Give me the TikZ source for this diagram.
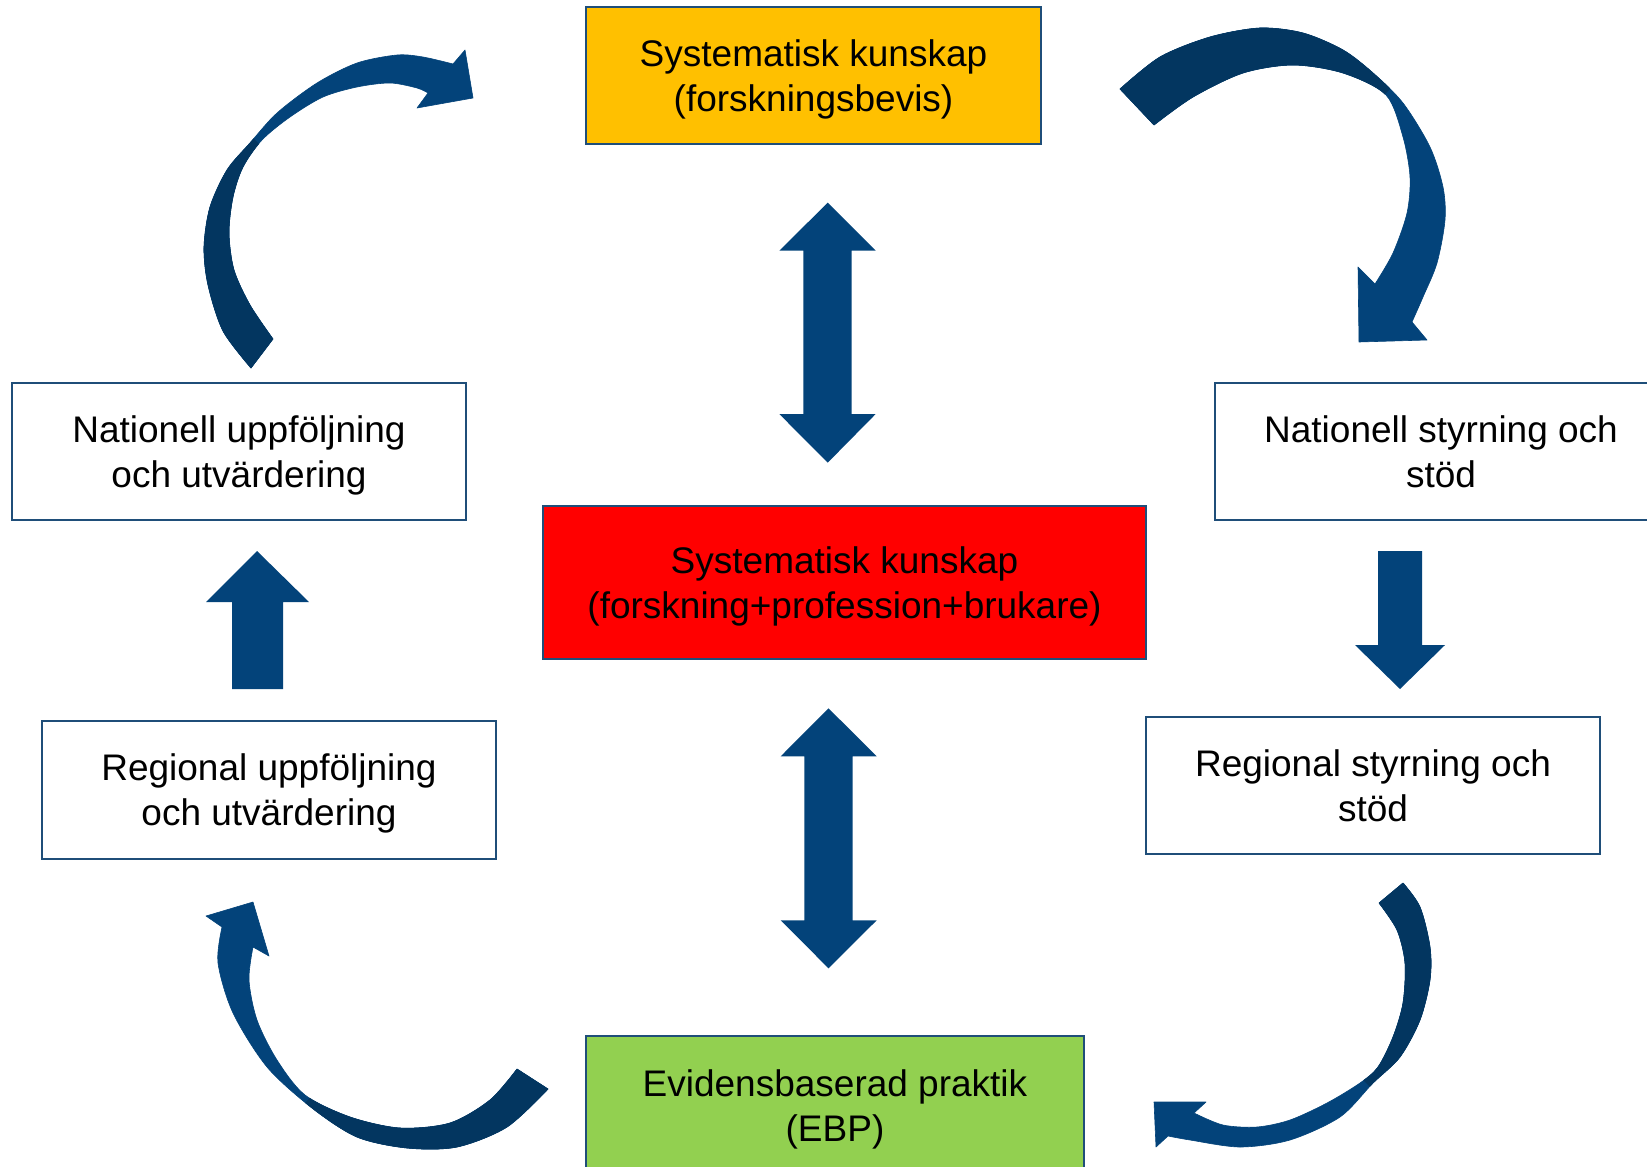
\documentclass[tikz,border=0pt]{standalone}
\usepackage{fontspec}
\setmainfont{Liberation Sans}
\definecolor{bordblue}{RGB}{31,78,121}
\definecolor{arrblue}{RGB}{3,67,122}
\definecolor{arrdark}{RGB}{3,54,96}
\definecolor{boxyellow}{RGB}{255,192,0}
\definecolor{boxred}{RGB}{255,0,0}
\definecolor{boxgreen}{RGB}{146,208,80}
\newcommand{\lnst}{\vrule height 34pt depth 7pt width 0pt}
\begin{document}
\begin{tikzpicture}[x=1pt,y=-1pt,
  box/.style={draw=bordblue, line width=2.5pt, align=center, inner sep=0pt,
    font=\fontsize{37}{45}\selectfont},
  blockarrow/.style={fill=arrblue},
  lightpart/.style={fill=arrblue, draw=arrblue, line width=0.6pt, line join=round},
  darkpart/.style={fill=arrdark, draw=arrdark, line width=0.6pt, line join=round}]
\useasboundingbox (0,0) rectangle (1647,1167);
\clip (0,0) rectangle (1647,1167);

% boxes
\node[box, fill=boxyellow, minimum width=455pt, minimum height=137pt] (sk) at (813.5,75.5)
  {\lnst Systematisk kunskap\\\lnst(forskningsbevis)};
\node[box, fill=boxred, minimum width=603pt, minimum height=153pt] (skall) at (844.5,582.5)
  {\lnst Systematisk kunskap\\\lnst(forskning+profession+brukare)};
\node[box, fill=boxgreen, minimum width=498pt, minimum height=139pt] (ebp) at (835,1105.5)
  {\lnst Evidensbaserad praktik\\\lnst(EBP)};
\node[box, fill=white, minimum width=454pt, minimum height=137pt] (nu) at (239,451.5)
  {\lnst Nationell uppföljning\\\lnst och utvärdering};
\node[box, fill=white, minimum width=454pt, minimum height=138pt] (ru) at (269,790)
  {\lnst Regional uppföljning\\\lnst och utvärdering};
\node[box, fill=white, minimum width=452pt, minimum height=137pt] (ns) at (1441,451.5)
  {\lnst Nationell styrning och\\\lnst stöd};
\node[box, fill=white, minimum width=454pt, minimum height=137pt] (rs) at (1373,785.5)
  {\lnst Regional styrning och\\\lnst stöd};

% straight block arrows
\fill[blockarrow] (232,689) -- (232,602) -- (206,602) -- (257,551) -- (309,602) -- (283,602) -- (283,689) -- cycle;
\fill[blockarrow] (1378,551) -- (1422,551) -- (1422,645) -- (1445,645) -- (1400,689) -- (1355,645) -- (1378,645) -- cycle;
\fill[blockarrow] (827.7,202.7) -- (875.7,250.7) -- (851.7,250.7) -- (851.7,414) -- (875.7,414) -- (827.7,462.7)
  -- (779.3,414) -- (803.3,414) -- (803.3,250.7) -- (779.3,250.7) -- cycle;
\fill[blockarrow] (828.5,708.3) -- (876.7,756.3) -- (852.7,756.3) -- (852.7,920.3) -- (876.7,920.3) -- (828.5,968.3)
  -- (780.7,920.3) -- (804.3,920.3) -- (804.3,756.3) -- (780.7,756.3) -- cycle;

% curved arrows: each is one smooth ribbon; the tail half is overlaid darker
\def\curveA{plot[smooth] coordinates {(251,368) (223,331) (208,285) (204,247) (210,207) (227,170) (250,143) (277,113) (317,83) (357,63) (397,55) (423,57) (453,64)}
  -- (465,50) -- (473,98) -- (417,108)
  -- plot[smooth] coordinates {(428,93) (417,88) (390,83) (357,87) (323,97) (290,117) (262,140) (243,167) (233,197) (229,233) (234,270) (250,305) (273,339)} -- cycle}
\def\curveB{plot[smooth] coordinates {(1120,89) (1160,57) (1210,37) (1260,28) (1303,33) (1343,50) (1373,73) (1403,103) (1430,147) (1443,187) (1445,220) (1437,263) (1423,297) (1412,322)}
  -- (1427,340) -- (1359,342) -- (1358,267)
  -- plot[smooth] coordinates {(1375,284) (1393,253) (1407,213) (1410,177) (1403,137) (1386,95) (1343,73) (1293,65) (1243,73) (1193,97) (1154,125)} -- cycle}
\def\curveC{plot[smooth] coordinates {(548,1089) (507,1127) (457,1147) (407,1148) (357,1137) (312,1108) (267,1067) (233,1013) (218,963) (222,927)}
  -- (206,916) -- (253,902) -- (269,956)
  -- plot[smooth] coordinates {(253,947) (249,980) (257,1020) (277,1060) (305,1095) (350,1117) (400,1128) (450,1123) (490,1100) (517,1069)} -- cycle}
\def\curveD{plot[smooth] coordinates {(1403,883) (1420,907) (1430,947) (1430,980) (1420,1020) (1400,1057) (1373,1083) (1340,1117) (1290,1140) (1240,1147) (1190,1140) (1168,1136)}
  -- (1156,1147) -- (1154,1102) -- (1206,1102)
  -- plot[smooth] coordinates {(1194,1113) (1223,1125) (1257,1127) (1290,1120) (1327,1103) (1360,1083) (1378,1067) (1393,1037) (1403,1003) (1405,963) (1397,930) (1379,903)} -- cycle}

\filldraw[lightpart] \curveA;
\begin{scope}
  \clip (150,35) -- (500,385) -- (150,385) -- cycle;
  \filldraw[darkpart] \curveA;
\end{scope}

\filldraw[lightpart] \curveB;
\begin{scope}
  \clip (1050,0) -- (1479,0) -- (1388,91) -- (1100,380) -- (1050,380) -- cycle;
  \filldraw[darkpart] \curveB;
\end{scope}

\filldraw[lightpart] \curveC;
\begin{scope}
  \clip (308,1100) -- (400,985) -- (600,985) -- (600,1180) -- (220,1180) -- cycle;
  \filldraw[darkpart] \curveC;
\end{scope}

\filldraw[lightpart] \curveD;
\begin{scope}
  \clip (1266,983) -- (1466,1183) -- (1647,1183) -- (1647,850) -- (1266,850) -- cycle;
  \filldraw[darkpart] \curveD;
\end{scope}
\end{tikzpicture}
\end{document}
